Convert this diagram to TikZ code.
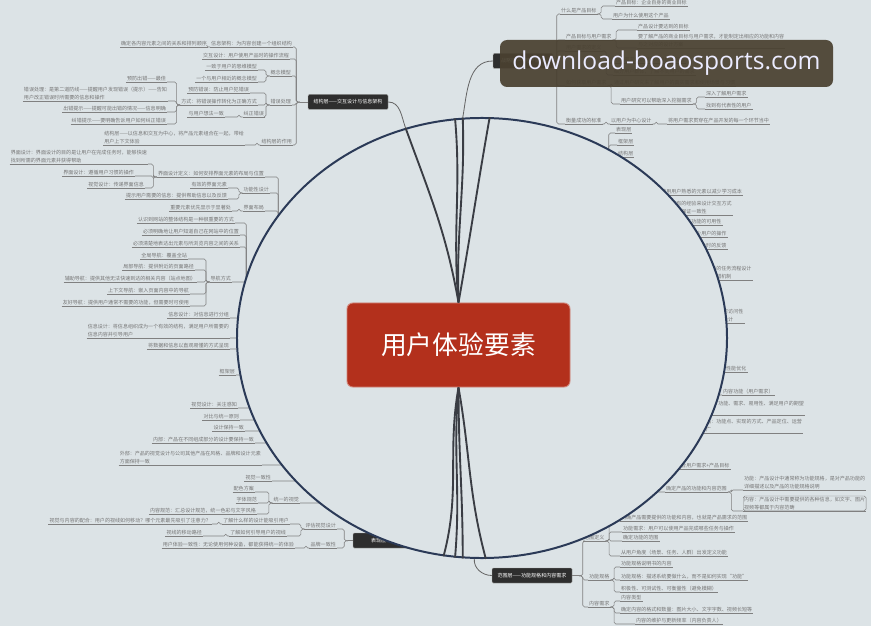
\documentclass[tikz,border=0pt]{standalone}
\usepackage{fontspec}
\setmainfont{Noto Sans CJK SC}
\newfontfamily\wmfont{Open Sans}
\usetikzlibrary{shapes.geometric}
\definecolor{bgblue}{HTML}{DCE3E6}
\definecolor{leafgray}{HTML}{767676}
\definecolor{linegray}{HTML}{808080}
\definecolor{ringblue}{HTML}{2B3A57}
\definecolor{spokegray}{HTML}{3A3D44}
\definecolor{layerfill}{HTML}{2E2E2E}
\definecolor{rootred}{HTML}{B3301C}
\definecolor{wmbrown}{HTML}{4A4131}
\tikzset{
  leaf/.style={font=\fontsize{4.3}{7}\selectfont, text=leafgray, inner sep=0.8pt, align=left,
    append after command={(\tikzlastnode.south west) edge[draw=linegray,line width=0.45pt] (\tikzlastnode.south east)}},
  branch/.style={draw=linegray, line width=0.45pt, rounded corners=1.5pt},
  hub/.style={inner sep=0pt, minimum size=0pt},
  layer/.style={fill=layerfill, draw=gray!70, line width=0.4pt, text=white, rounded corners=1pt,
    font=\fontsize{4.3}{5}\selectfont, minimum width=2.4cm, minimum height=0.45cm, inner sep=1pt},
  spoke/.style={draw=spokegray, line width=1.6pt},
  tie/.style={draw=gray!80!black, line width=0.7pt},
}
\newcommand{\linkL}[2]{\draw[branch] (#1.south east) -| ([xshift=-3pt]#2.south west) -- (#2.south west);}
\newcommand{\linkR}[2]{\draw[branch] (#1.south west) -| ([xshift=3pt]#2.south east) -- (#2.south east);}

\begin{document}
\begin{tikzpicture}[x=0.03cm,y=-0.03cm]
        \useasboundingbox (0,0) rectangle (871,626);
        \fill[bgblue] (0,0) rectangle (871,626);

        % structure layer (top left)
        \node[layer] (J) at (348,102) {结构层——交互设计与信息架构};
        \node[hub] (jA) at (300,102) {};
        \node[leaf,anchor=south east] (j1) at (208,47) {确定各内容元素之间的关系和排列顺序};
        \node[leaf,anchor=south east] (j2) at (293,47) {信息架构：为内容创建一个组织结构};
        \node[leaf,anchor=south east] (j3) at (290,59) {交互设计：用户使用产品时的操作流程};
        \node[leaf,anchor=south east] (j4) at (258,70) {一致于用户的思维模型};
        \node[leaf,anchor=south east] (j5) at (258,82) {一个与用户相近的概念模型};
        \node[leaf,anchor=south east] (j6) at (292,76) {概念模型};
        \node[leaf,anchor=south east] (j7) at (167,82) {预防出错——最佳};
        \node[leaf,anchor=south east] (j8) at (168,101) {错误处理：是第二道防线——提醒用户发现错误（提示）——告知\\用户改正错误时所需要的信息和操作};
        \node[leaf,anchor=south east] (j9) at (167,112) {出错提示——提醒可能出错的情况——信息明确};
        \node[leaf,anchor=south east] (j10) at (167,124) {纠错提示——要明确告诉用户如何纠正错误};
        \node[leaf,anchor=south east] (j11) at (250,93) {预防错误：防止用户犯错误};
        \node[leaf,anchor=south east] (j12) at (258,105) {方式：将错误操作转化为正确方式};
        \node[leaf,anchor=south east] (j13) at (225,117) {与用户想法一致};
        \node[leaf,anchor=south east] (j14) at (265,117) {纠正错误};
        \node[leaf,anchor=south east] (j15) at (292,105) {错误处理};
        \node[leaf,anchor=south east] (j16) at (245,145) {结构层——以信息和交互为中心，将产品元素组合在一起，带给\\用户上下文体验};
        \node[leaf,anchor=south east] (j17) at (293,145) {结构层的作用};
        \linkL{j1}{j2} \linkL{j4}{j6} \linkL{j5}{j6}
        \linkL{j7}{j12} \linkL{j8}{j12} \linkL{j9}{j12} \linkL{j10}{j12}
        \linkL{j11}{j15} \linkL{j12}{j15} \linkL{j13}{j14} \linkL{j14}{j15}
        \linkL{j16}{j17}
        \linkL{j2}{jA} \linkL{j3}{jA} \linkL{j6}{jA} \linkL{j15}{jA} \linkL{j17}{jA}
        \draw[branch] (jA) -- (J.west);

        % interface design
        \node[hub] (kA) at (282,232) {};
        \node[leaf,anchor=south east] (k1) at (148,164) {界面设计：界面设计的目的是让用户在完成任务时，能够快速\\找到所需的界面元素并获得帮助};
        \node[leaf,anchor=south east] (k2) at (135,176) {界面设计：遵循用户习惯的操作};
        \node[leaf,anchor=south east] (k3) at (145,188) {视觉设计：传递界面信息};
        \node[leaf,anchor=south east] (k4) at (265,177) {界面设计定义：如何安排界面元素的布局与位置};
        \node[leaf,anchor=south east] (k5) at (228,188) {有效的界面元素};
        \node[leaf,anchor=south east] (k6) at (228,199) {提示用户需要的信息：提供帮助信息以及反馈};
        \node[leaf,anchor=south east] (k7) at (270,193) {功能性设计};
        \node[leaf,anchor=south east] (k8) at (232,211) {重要元素优先显示于显著处};
        \node[leaf,anchor=south east] (k9) at (265,211) {界面布局};
        \linkL{k1}{k4} \linkL{k2}{k4} \linkL{k3}{k4}
        \linkL{k5}{k7} \linkL{k6}{k7} \linkL{k8}{k9}
        \linkL{k4}{kA} \linkL{k7}{kA} \linkL{k9}{kA}

        % navigation design
        \node[hub] (nA) at (250,300) {};
        \node[leaf,anchor=south east] (n1) at (235,223) {认识到网站的整体结构是一种很重要的方式};
        \node[leaf,anchor=south east] (n2) at (240,235) {必须明确地让用户知道自己在网站中的位置};
        \node[leaf,anchor=south east] (n3) at (240,247) {必须清楚地表达出元素与所浏览内容之间的关系};
        \node[leaf,anchor=south east] (n4) at (188,259) {全局导航：覆盖全站};
        \node[leaf,anchor=south east] (n5) at (195,270) {局部导航：提供附近的页面路径};
        \node[leaf,anchor=south east] (n6) at (197,282) {辅助导航：提供其他无法快速到达的相关内容（站点地图）};
        \node[leaf,anchor=south east] (n7) at (190,294) {上下文导航：嵌入页面内容中的导航};
        \node[leaf,anchor=south east] (n8) at (190,306) {友好导航：提供用户通常不需要的功能，但需要时可使用};
        \node[leaf,anchor=south east] (n9) at (232,282) {导航方式};
        \linkL{n4}{n9} \linkL{n5}{n9} \linkL{n6}{n9} \linkL{n7}{n9} \linkL{n8}{n9}
        \linkL{n1}{nA} \linkL{n2}{nA} \linkL{n3}{nA} \linkL{n9}{nA}

        % information design
        \node[hub] (iA) at (275,350) {};
        \node[leaf,anchor=south east] (i1) at (230,318) {信息设计：对信息进行分组};
        \node[leaf,anchor=south east] (i2) at (230,338) {信息设计：将信息组织成为一个有效的结构，满足用户所需要的\\信息内容并引导用户};
        \node[leaf,anchor=south east] (i3) at (230,349) {将数据和信息以直观易懂的方式呈现};
        \node[leaf,anchor=south east] (i4) at (236,375) {框架层};
        \linkL{i1}{iA} \linkL{i2}{iA} \linkL{i3}{iA} \linkL{i4}{iA}

        % presentation layer (bottom left)
        \node[layer] (P) at (393,540.5) {表现层——感知设计};
        \node[hub] (pA) at (348,540.5) {};
        \node[hub] (vA) at (300,440) {};
        \node[hub] (vB) at (330,490) {};
        \node[leaf,anchor=south east] (v1) at (238,408) {视觉设计：关注感知};
        \node[leaf,anchor=south east] (v2) at (240,420) {对比与统一原则};
        \node[leaf,anchor=south east] (v3) at (245,431) {设计保持一致};
        \node[leaf,anchor=south east] (v4) at (255,443) {内部：产品在不同组成部分的设计要保持一致};
        \node[leaf,anchor=south east] (v5) at (262,465) {外部：产品的视觉设计与公司其他产品在风格、品牌和设计元素\\方面保持一致};
        \node[leaf,anchor=south east] (v6) at (272,481) {视觉一致性};
        \node[leaf,anchor=south east] (v7) at (255,492) {配色方案};
        \node[leaf,anchor=south east] (v8) at (258,503) {字体规范};
        \node[leaf,anchor=south east] (v9) at (300,503) {统一的视觉};
        \node[leaf,anchor=south east] (v10) at (257,514) {内容规范：汇总设计规范，统一色彩与文字风格};
        \node[leaf,anchor=south east] (v11) at (212,524) {视觉与内容的配合：用户的视线如何移动？哪个元素最先吸引了注意力？};
        \node[leaf,anchor=south east] (v12) at (290,524) {了解什么样的设计能吸引用户};
        \node[leaf,anchor=south east] (v13) at (203,536) {视线的移动路径};
        \node[leaf,anchor=south east] (v14) at (287,536) {了解如何引导用户的视线};
        \node[leaf,anchor=south east] (v15) at (337,529) {评估视觉设计};
        \node[leaf,anchor=south east] (v16) at (295,548) {用户体验一致性：无论使用何种设备，都能获得统一的体验};
        \node[leaf,anchor=south east] (v17) at (337,548) {品牌一致性};
        \linkL{v1}{vA} \linkL{v2}{vA} \linkL{v3}{vA} \linkL{v4}{vA} \linkL{v5}{vA}
        \linkL{v7}{v9} \linkL{v8}{v9} \linkL{v10}{v9}
        \linkL{v6}{vB} \linkL{v9}{vB}
        \linkL{v11}{v12} \linkL{v13}{v14} \linkL{v12}{v15} \linkL{v14}{v15} \linkL{v16}{v17}
        \linkL{v15}{pA} \linkL{v17}{pA}
        \draw[branch] (pA) -- (P.west);

        % strategy layer (top right)
        \node[layer,minimum width=1.8cm] (S) at (523,61) {战略层——用户需求};
        \node[hub] (sA) at (553,61) {};
        \node[leaf,anchor=south west] (s1) at (615,6) {产品目标：企业自身的商业目标};
        \node[leaf,anchor=south west] (s2) at (560,14) {什么是产品目标};
        \node[leaf,anchor=south west] (s3) at (612,19) {用户为什么使用这个产品};
        \node[leaf,anchor=south west] (s4) at (637,30) {产品设计要达到的目标};
        \node[leaf,anchor=south west] (s5) at (565,40) {产品目标与用户需求};
        \node[leaf,anchor=south west] (s6) at (637,48) {要了解产品的商业目标与用户需求，才能制定出相应的功能和内容\\与之对应的设计方案};
        \node[leaf,anchor=south west] (s7) at (565,51) {用户需求的定义};
        \node[leaf,anchor=south west] (s8) at (613,63) {用户需求包括用户的目标与期望};
        \node[leaf,anchor=south west] (s9) at (613,75) {细分用户群体，了解不同用户的需求};
        \node[leaf,anchor=south west] (s10) at (565,86) {如何获取用户需求};
        \node[leaf,anchor=south west] (s11) at (613,86) {通过用户研究来了解用户的真实需求和使用场景与习惯};
        \node[leaf,anchor=south west] (s12) at (620,104) {用户研究可以帮助深入挖掘需求};
        \node[leaf,anchor=south west] (s13) at (705,97) {深入了解用户需求};
        \node[leaf,anchor=south west] (s14) at (705,109) {找到有代表性的用户};
        \node[leaf,anchor=south west] (s15) at (565,124) {衡量成功的标准};
        \node[leaf,anchor=south west] (s16) at (610,124) {以用户为中心设计};
        \node[leaf,anchor=south west] (s17) at (667,124) {将用户需求贯穿在产品开发的每一个环节当中};
        \linkR{s1}{s2} \linkR{s3}{s2} \linkR{s4}{s5} \linkR{s6}{s5}
        \linkR{s8}{s7} \linkR{s9}{s7} \linkR{s11}{s10} \linkR{s12}{s10}
        \linkR{s13}{s12} \linkR{s14}{s12} \linkR{s16}{s15} \linkR{s17}{s16}
        \linkR{s2}{sA} \linkR{s5}{sA} \linkR{s7}{sA} \linkR{s10}{sA} \linkR{s15}{sA}
        \draw[branch] (sA) -- (S.east);

        % layer list
        \node[hub] (tA) at (605,165) {};
        \node[leaf,anchor=south west] (t1) at (615,133) {表现层};
        \node[leaf,anchor=south west] (t2) at (617,145) {框架层};
        \node[leaf,anchor=south west] (t3) at (617,157) {结构层};
        \linkR{t1}{tA} \linkR{t2}{tA} \linkR{t3}{tA}

        % right side items
        \node[hub] (rA) at (620,300) {};
        \node[hub] (rB) at (640,470) {};
        \node[leaf,anchor=south west] (r1) at (640,195) {在设计中使用用户熟悉的元素以减少学习成本};
        \node[leaf,anchor=south west] (r2) at (650,215) {根据用户已有的经验来设计交互方式\\和界面组件，保证一致性};
        \node[leaf,anchor=south west] (r3) at (680,225) {提高功能的可用性};
        \node[leaf,anchor=south west] (r4) at (690,237) {减少用户的操作};
        \node[leaf,anchor=south west] (r5) at (700,249) {及时的反馈};
        \node[leaf,anchor=south west] (r6) at (705,280) {清晰的任务流程设计\\与容错机制};
        \node[leaf,anchor=south west] (r7) at (722,323) {可访问性\\设计};
        \node[leaf,anchor=south west] (r8) at (725,372) {性能优化};
        \node[leaf,anchor=south west] (r9) at (722,395) {内容功能（用户需求）};
        \node[leaf,anchor=south west] (r10) at (702,415) {用户：功能、需求、易用性、满足用户的期望\\等};
        \node[leaf,anchor=south west] (r11) at (700,433) {产品：功能点、实现的方式、产品定位、运营\\推广};
        \node[leaf,anchor=south west] (r12) at (675,469) {结合用户需求+产品目标};
        \node[leaf,anchor=south west] (r13) at (665,492) {确定产品的功能和内容范围};
        \node[leaf,anchor=south west] (r14) at (743,490) {功能：产品设计中通常称为功能规格，是对产品功能的\\详细描述以及产品的功能规格说明};
        \node[leaf,anchor=south west,draw=linegray,rounded corners=1.5pt] (r15) at (743,511) {内容：产品设计中需要提供的各种信息，如文字、图片\\视频等都属于内容范畴};
        \linkR{r1}{rA} \linkR{r2}{rA} \linkR{r3}{rA} \linkR{r4}{rA} \linkR{r5}{rA}
        \linkR{r6}{rA} \linkR{r7}{rA} \linkR{r8}{rA} \linkR{r9}{rA} \linkR{r10}{rA} \linkR{r11}{rA}
        \linkR{r14}{r13} \linkR{r15}{r13}
        \linkR{r12}{rB} \linkR{r13}{rB}

        % scope layer (bottom right)
        \node[layer] (F) at (532,575.5) {范围层——功能规格和内容需求};
        \node[hub] (fA) at (579,575.5) {};
        \node[leaf,anchor=south west] (f1) at (620,521) {明确产品需要提供的功能和内容，也就是产品需求的范围};
        \node[leaf,anchor=south west] (f2) at (622,532) {功能需求：用户可以使用产品完成哪些任务与操作};
        \node[leaf,anchor=south west] (f3) at (583,541) {范围定义};
        \node[leaf,anchor=south west] (f4) at (622,541) {确定功能的范围};
        \node[leaf,anchor=south west] (f5) at (620,556) {从用户角度（场景、任务、人群）出发定义功能};
        \node[leaf,anchor=south west] (f6) at (620,567) {功能规格说明书的内容};
        \node[leaf,anchor=south west] (f7) at (620,580) {功能规格：描述系统要做什么，而不是如何实现“功能”};
        \node[leaf,anchor=south west] (f8) at (588,580) {功能规格};
        \node[leaf,anchor=south west] (f9) at (620,592) {积极性、可测试性、可衡量性（避免模糊）};
        \node[leaf,anchor=south west] (f10) at (620,601) {内容类型};
        \node[leaf,anchor=south west] (f11) at (588,607) {内容需求};
        \node[leaf,anchor=south west] (f12) at (620,613) {确定内容的格式和数量：图片大小、文字字数、视频长短等};
        \node[leaf,anchor=south west] (f13) at (635,624) {内容的维护与更新频率（内容负责人）};
        \linkR{f1}{f3} \linkR{f2}{f3} \linkR{f4}{f3} \linkR{f5}{f3}
        \linkR{f6}{f8} \linkR{f7}{f8} \linkR{f9}{f8}
        \linkR{f10}{f11} \linkR{f12}{f11} \linkR{f13}{f11}
        \linkR{f3}{fA} \linkR{f8}{fA} \linkR{f11}{fA}
        \draw[branch] (F.east) -- (fA);

        % the big ring
        \node[ellipse, draw=ringblue, fill=bgblue, line width=1.7pt, inner sep=0pt,
              minimum width=14.7cm, minimum height=13.2cm] (E) at (482,338) {};

        % root
        \node[fill=rootred, draw=rootred!60!white, line width=0.8pt, rounded corners=5pt,
              minimum width=6.69cm, minimum height=2.52cm, text=white,
              font=\fontsize{22}{26}\selectfont] (R) at (458.5,345) {用户体验要素};

        % layer boxes to the ring
        \draw[tie] (J.east) to[out=0,in=110] (E.110);
        \draw[tie] (S.west) to[out=180,in=80] (E.95);
        \draw[tie] (E.268) to[out=-95,in=180] (F.west);

        % spokes from the root
        \draw[spoke] (E.110) to[out=-70,in=100] (R.north);
        \draw[spoke] (E.97) to[out=-85,in=95] (R.north);
        \draw[spoke] (E.95) to[out=-88,in=92] (R.north);
        \draw[spoke] (E.88) to[out=-100,in=80] (R.north);
        \draw[spoke] (R.south) to[out=-100,in=75] (E.260);
        \draw[spoke] (R.south) to[out=-95,in=85] (E.263);
        \draw[spoke] (R.south) to[out=-90,in=90] (E.265);
        \draw[spoke] (R.south) to[out=-80,in=105] (E.271);

        % watermark
        \node[fill=wmbrown, fill opacity=0.93, text opacity=1, text=white!92!blue, rounded corners=6pt,
              minimum width=9.99cm, minimum height=1.41cm, font=\wmfont\fontsize{21}{24}\selectfont]
              (W) at (666.5,63.5) {download-boaosports.com};

\end{tikzpicture}
\end{document}
